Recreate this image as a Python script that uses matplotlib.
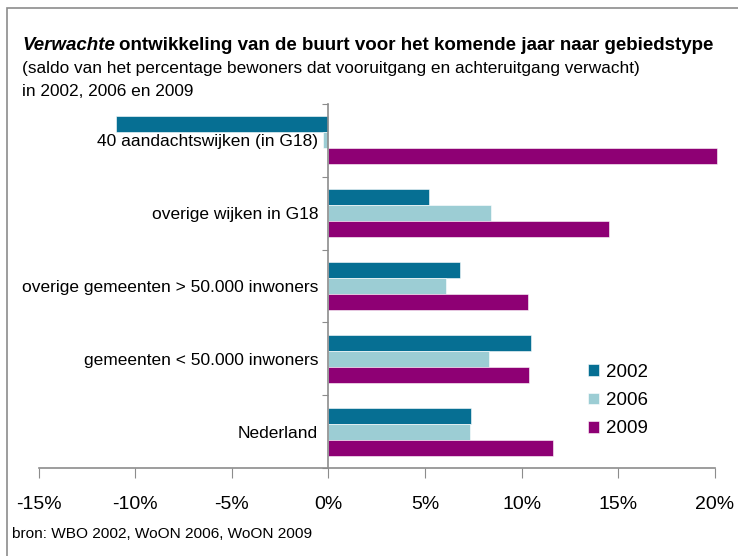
import numpy as np
import matplotlib
matplotlib.use('Agg')
import matplotlib.pyplot as plt
from matplotlib.patches import Rectangle

# Data
categories = ['40 aandachtswijken (in G18)', 'overige wijken in G18',
              'overige gemeenten > 50.000 inwoners', 'gemeenten < 50.000 inwoners',
              'Nederland']
years = ['2002', '2006', '2009']
v2002 = [-11.0, 5.2, 6.8, 10.5, 7.4]
v2006 = [-0.3, 8.4, 6.1, 8.3, 7.3]
v2009 = [20.1, 14.5, 10.3, 10.4, 11.6]
xticks = [-15, -10, -5, 0, 5, 10, 15, 20]

colors = ['#066f93', '#9ccdd4', '#8e0074']
series = [v2002, v2006, v2009]

plt.rcParams['font.family'] = ['Liberation Sans Narrow', 'Liberation Sans', 'DejaVu Sans']

W, H = 738, 556
fig = plt.figure(figsize=(W / 100, H / 100), dpi=100)
ax = fig.add_axes([38.6 / W, 1 - 468 / H, (715 - 38.6) / W, (468 - 104) / H])

# frame around the chart (only left and top visible)
fig.patches.append(Rectangle((7 / W, -0.1), 1.2, 1 - 8 / H + 0.1, transform=fig.transFigure,
                             fill=False, edgecolor='#8c8c8c', linewidth=1.2))

y = np.arange(len(categories))
bh = 0.22
for i, (vals, c) in enumerate(zip(series, colors)):
    ax.barh(y + (i - 1) * bh, vals, height=bh, color=c, label=years[i],
            edgecolor='white', linewidth=0.4, clip_on=False)

ax.set_xlim(-15, 20)
ax.set_ylim(len(categories) - 0.5, -0.5)
ax.set_xticks(xticks)
ax.set_xticklabels(['%d%%' % t for t in xticks], fontsize=14)

# y axis sits on 0%, ticks between categories, labels at category centres
ax.spines['left'].set_position(('data', 0))
ax.set_yticks(np.arange(-0.5, len(categories), 1.0))
ax.set_yticklabels([])
ax.set_yticks(y, minor=True)
ax.set_yticklabels(categories, minor=True, fontsize=12.5)
ax.tick_params(axis='y', which='major', direction='out', length=4, color='#8c8c8c')
ax.tick_params(axis='y', which='minor', length=0, pad=7.5)
ax.tick_params(axis='x', direction='out', length=7, color='#8c8c8c', pad=13)
for s in ['top', 'right']:
    ax.spines[s].set_visible(False)
for s in ['left', 'bottom']:
    ax.spines[s].set_color('#8c8c8c')
    ax.spines[s].set_linewidth(1.2)

leg = ax.legend(loc='upper left', bbox_to_anchor=(571 / W, 1 - 347 / H),
                bbox_transform=fig.transFigure, frameon=False, fontsize=13.5,
                handlelength=0.6, handleheight=0.6, handletextpad=0.35,
                labelspacing=0.6)

# title block
fig.canvas.draw()
r = fig.canvas.get_renderer()
t1 = fig.text(22 / W, 1 - 50 / H, 'Verwachte', fontsize=13.5, fontweight='bold',
              fontstyle='italic', va='baseline')
bb = t1.get_window_extent(renderer=r)
fig.text(bb.x1 / W + 4 / W, 1 - 50 / H, 'ontwikkeling van de buurt voor het komende jaar naar gebiedstype',
         fontsize=13.5, fontweight='bold', va='baseline')
fig.text(22 / W, 1 - 73 / H, '(saldo van het percentage bewoners dat vooruitgang en achteruitgang verwacht)',
         fontsize=12.4, va='baseline')
fig.text(22 / W, 1 - 96 / H, 'in 2002, 2006 en 2009', fontsize=12.4, va='baseline')
fig.text(12 / W, 1 - 538 / H, 'bron: WBO 2002, WoON 2006, WoON 2009', fontsize=11.1, va='baseline')

fig.savefig('out.png', dpi=100)
